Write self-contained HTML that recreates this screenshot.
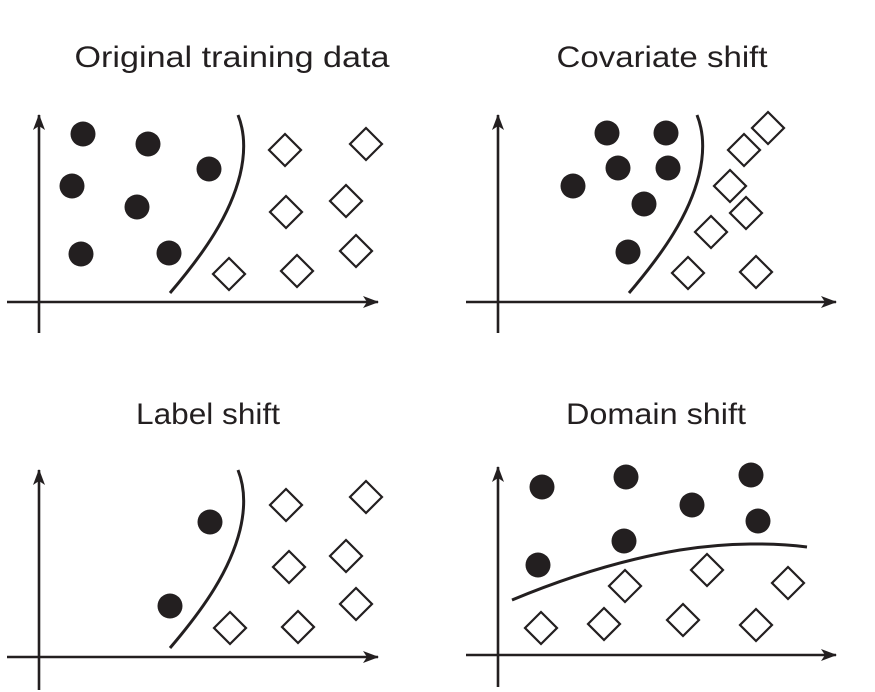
<!DOCTYPE html>
<html><head><style>body{margin:0;background:#fff}svg{display:block}</style></head><body>
<svg width="875" height="692" viewBox="0 0 875 692" xmlns="http://www.w3.org/2000/svg">
<defs>
<marker id="a" viewBox="0 0 16 12" refX="15" refY="6" markerWidth="16" markerHeight="12" markerUnits="userSpaceOnUse" orient="auto"><path d="M0,0 L16,6 L0,12 L4,6 Z" fill="#231f20"/></marker>
<g id="d"><path d="M0,-16 L16,0 L0,16 L-16,0 Z" fill="#fff" stroke="#231f20" stroke-width="2.2"/></g>
</defs>
<g font-family="Liberation Sans, sans-serif" font-size="30" fill="#231f20" text-anchor="middle" lengthAdjust="spacingAndGlyphs">
<text x="232" y="67" textLength="315" lengthAdjust="spacingAndGlyphs">Original training data</text>
<text x="662" y="67" textLength="211" lengthAdjust="spacingAndGlyphs">Covariate shift</text>
<text x="208" y="424" textLength="144" lengthAdjust="spacingAndGlyphs">Label shift</text>
<text x="656" y="424" textLength="180" lengthAdjust="spacingAndGlyphs">Domain shift</text>
</g>
<g stroke="#231f20" stroke-width="2.6" fill="none">
<line x1="39" y1="333" x2="39" y2="115" marker-end="url(#a)"/>
<line x1="7" y1="302" x2="378" y2="302" marker-end="url(#a)"/>
<line x1="498" y1="333" x2="498" y2="115" marker-end="url(#a)"/>
<line x1="466" y1="302" x2="836" y2="302" marker-end="url(#a)"/>
<line x1="39" y1="690" x2="39" y2="470" marker-end="url(#a)"/>
<line x1="7" y1="657" x2="378" y2="657" marker-end="url(#a)"/>
<line x1="498" y1="687" x2="498" y2="467" marker-end="url(#a)"/>
<line x1="466" y1="655" x2="836" y2="655" marker-end="url(#a)"/>
<g stroke-width="3">
<path d="M170,293 C205,252 230,215 240,175 C246,150 244,130 238,115"/>
<path d="M629,293 C664,252 689,215 699,175 C705,150 703,130 697,115"/>
<path d="M170,648 C205,607 230,570 240,530 C246,505 244,485 238,470"/>
<path d="M512,600 C560,580 620,560 680,550 C730,542 775,543 807,547"/>
</g>
</g>
<g fill="#231f20">
<circle cx="83" cy="134" r="12.5"/><circle cx="148" cy="144" r="12.5"/><circle cx="72" cy="186" r="12.5"/><circle cx="137" cy="207" r="12.5"/><circle cx="81" cy="254" r="12.5"/><circle cx="169" cy="253" r="12.5"/><circle cx="209" cy="169" r="12.5"/>
<circle cx="607" cy="133" r="12.5"/><circle cx="666" cy="133" r="12.5"/><circle cx="618" cy="168" r="12.5"/><circle cx="668" cy="168" r="12.5"/><circle cx="573" cy="186" r="12.5"/><circle cx="644" cy="204" r="12.5"/><circle cx="628" cy="252" r="12.5"/>
<circle cx="210" cy="522" r="12.5"/><circle cx="170" cy="606" r="12.5"/>
<circle cx="542" cy="487" r="12.5"/><circle cx="626" cy="477" r="12.5"/><circle cx="692" cy="505" r="12.5"/><circle cx="751" cy="475" r="12.5"/><circle cx="758" cy="521" r="12.5"/><circle cx="624" cy="541" r="12.5"/><circle cx="538" cy="565" r="12.5"/>
</g>
<use href="#d" x="285" y="150"/><use href="#d" x="366" y="144"/><use href="#d" x="286" y="212"/><use href="#d" x="346" y="201"/><use href="#d" x="229" y="274"/><use href="#d" x="297" y="271"/><use href="#d" x="356" y="251"/>
<use href="#d" x="768" y="128"/><use href="#d" x="744" y="150"/><use href="#d" x="730" y="186"/><use href="#d" x="746" y="213"/><use href="#d" x="711" y="232"/><use href="#d" x="688" y="273"/><use href="#d" x="756" y="272"/>
<use href="#d" x="286" y="505"/><use href="#d" x="366" y="497"/><use href="#d" x="289" y="567"/><use href="#d" x="346" y="556"/><use href="#d" x="230" y="628"/><use href="#d" x="298" y="627"/><use href="#d" x="356" y="604"/>
<use href="#d" x="541" y="628"/><use href="#d" x="604" y="624"/><use href="#d" x="625" y="586"/><use href="#d" x="707" y="570"/><use href="#d" x="683" y="620"/><use href="#d" x="756" y="625"/><use href="#d" x="788" y="583"/>
</svg>
</body></html>
